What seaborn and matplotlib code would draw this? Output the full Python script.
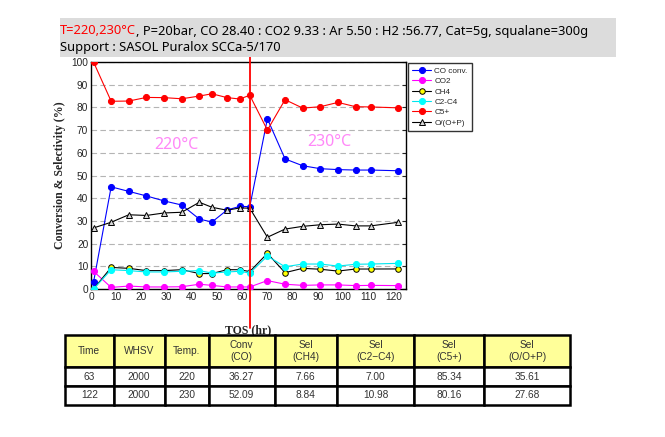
import matplotlib
matplotlib.use("Agg")
import matplotlib.pyplot as plt
from matplotlib.patches import Rectangle
from matplotlib.text import Annotation
import seaborn as sns

# ---------------- data ----------------
tos = [1, 8, 15, 22, 29, 36, 43, 48, 54, 59, 63, 70, 77, 84, 91, 98, 105, 111, 122]
co_conv = [3.0, 45.0, 43.0, 41.0, 38.8, 37.0, 30.8, 29.5, 34.8, 36.4, 36.27, 75.0, 57.3, 54.3, 53.0, 52.6, 52.4, 52.4, 52.09]
co2 = [7.8, 0.7, 1.3, 0.9, 0.9, 1.0, 2.1, 1.6, 0.9, 0.9, 0.9, 3.7, 2.1, 1.6, 1.8, 1.8, 1.5, 1.6, 1.5]
ch4 = [0.0, 9.5, 9.1, 8.1, 8.1, 8.5, 6.8, 6.8, 8.5, 8.5, 7.66, 15.7, 7.2, 9.1, 8.7, 7.9, 8.8, 8.8, 8.84]
c2c4 = [0.0, 8.5, 8.1, 7.5, 7.5, 7.8, 8.1, 7.0, 7.5, 7.8, 7.00, 14.5, 9.8, 11.0, 11.0, 10.1, 10.9, 11.0, 11.3]
c5p = [100.0, 82.7, 82.8, 84.4, 84.3, 83.8, 85.0, 86.0, 84.3, 83.7, 85.34, 70.0, 83.4, 79.7, 80.3, 82.2, 80.3, 80.2, 79.8]
olef = [26.9, 29.4, 32.7, 32.4, 33.5, 33.8, 38.2, 36.0, 34.7, 35.7, 35.61, 22.8, 26.4, 27.6, 28.3, 28.6, 27.8, 27.8, 29.4]

series_names = ["CO conv.", "CO2", "CH4", "C2-C4", "C5+", "O/(O+P)"]
series_values = [co_conv, co2, ch4, c2c4, c5p, olef]

temp_change_time = 63
zone_labels = ["220\u00b0C", "230\u00b0C"]
zone_label_pos = [(34, 63.4), (94.4, 64.7)]

title_red = "T=220,230\u00b0C"
title_rest = ", P=20bar, CO 28.40 : CO2 9.33 : Ar 5.50 : H2 :56.77, Cat=5g, squalane=300g"
title_line2 = "Support : SASOL Puralox SCCa-5/170"

table_header = ["Time", "WHSV", "Temp.", "Conv\n(CO)", "Sel\n(CH4)", "Sel\n(C2\u2212C4)", "Sel\n(C5+)", "Sel\n(O/O+P)"]
table_rows = [
    ["63", "2000", "220", "36.27", "7.66", "7.00", "85.34", "35.61"],
    ["122", "2000", "230", "52.09", "8.84", "10.98", "80.16", "27.68"],
]

# ---------------- styles ----------------
styles = {
    "CO conv.": dict(color="#0000ff", marker="o", mfc="#0000ff", mec="#0000ff", ms=4.4),
    "CO2": dict(color="#ff00ff", marker="o", mfc="#ff00ff", mec="#ff00ff", ms=4.4),
    "CH4": dict(color="#000000", marker="o", mfc="#ffff00", mec="#000000", ms=4.0),
    "C2-C4": dict(color="#00e5ee", marker="o", mfc="#00ffff", mec="#00ffff", ms=4.4),
    "C5+": dict(color="#ff0000", marker="o", mfc="#ff0000", mec="#ff0000", ms=4.4),
    "O/(O+P)": dict(color="#000000", marker="^", mfc="#d8d8d8", mec="#000000", ms=3.8),
}

sns.set_style("white")
plt.rcParams["font.family"] = ["Liberation Sans", "DejaVu Sans"]

W, H = 665, 437
fig = plt.figure(figsize=(W / 100, H / 100), dpi=100)

def fx(px):
    return px / W

def fy(py):
    return 1 - py / H

title_font = ["Noto Sans", "DejaVu Sans"]
title_size = 9.3

# title box
fig.patches.append(Rectangle((fx(60), fy(57)), fx(616) - fx(60), fy(18) - fy(57),
                             transform=fig.transFigure, facecolor="#dcdcdc", edgecolor="none", zorder=0))
t1 = fig.text(fx(60), fy(31), title_red, color="#ff0000", fontsize=title_size, va="center", ha="left",
              family=title_font)
fig.add_artist(Annotation(title_rest, xy=(1, 0), xycoords=t1, va="bottom", ha="left",
                          fontsize=title_size, color="#000000", family=title_font))
fig.text(fx(60), fy(48), title_line2, color="#000000", fontsize=title_size, va="center", ha="left",
         family=title_font)

# main axes
ax = fig.add_axes([fx(91), fy(289), fx(406) - fx(91), fy(62) - fy(289)])
for name, vals in zip(series_names, series_values):
    st = styles[name]
    sns.lineplot(x=tos, y=vals, ax=ax, color=st["color"], marker=st["marker"],
                 markerfacecolor=st["mfc"], markeredgecolor=st["mec"], markersize=st["ms"],
                 markeredgewidth=0.7, linewidth=0.8, label=name, zorder=3)

ax.set_xlim(0, 125)
ax.set_ylim(0, 100)
ax.set_xticks(range(0, 121, 10))
ax.set_yticks(range(0, 101, 10))
ax.yaxis.grid(True, linestyle=(0, (5, 3)), color="#b4b4b4", linewidth=0.8)
ax.xaxis.grid(False)
for s in ax.spines.values():
    s.set_color("black")
    s.set_linewidth(1.0)
ax.tick_params(direction="in", length=3, width=0.8, right=True, labelsize=7.3, pad=2)
ax.set_xlabel("TOS (hr)", family="Liberation Serif", fontweight="bold", fontsize=8.5, labelpad=16)
ax.set_ylabel("Conversion & Selectivity (%)", family="Liberation Serif", fontweight="bold", fontsize=8.5, labelpad=4)

for lbl, (x, y) in zip(zone_labels, zone_label_pos):
    ax.text(x, y, lbl, color="#ff88f8", fontsize=11.5, ha="center", va="center",
            family=title_font, zorder=2)

ax.axvline(temp_change_time, ymin=-0.17, ymax=1.045, color="#ff0000", linewidth=1.3,
           clip_on=False, zorder=5)

leg = ax.legend(loc="upper left", bbox_to_anchor=(fx(408), fy(63)), bbox_transform=fig.transFigure,
                borderaxespad=0, fontsize=5.9, frameon=True, fancybox=False, handlelength=2.3,
                handletextpad=0.4, labelspacing=0.32, borderpad=0.5)
leg.get_frame().set_edgecolor("black")
leg.get_frame().set_linewidth(1.0)

# table
col_edges = [65, 113.5, 164.5, 208.5, 274.5, 337, 414, 484, 570]
tab_top, tab_bot = 335, 405
tax = fig.add_axes([fx(col_edges[0]), fy(tab_bot), fx(col_edges[-1]) - fx(col_edges[0]), fy(tab_top) - fy(tab_bot)])
tax.axis("off")
total_w = col_edges[-1] - col_edges[0]
widths = [(col_edges[i + 1] - col_edges[i]) / total_w for i in range(len(col_edges) - 1)]
tbl = tax.table(cellText=table_rows, colLabels=table_header, colWidths=widths,
                cellLoc="center", bbox=[0, 0, 1, 1])
tbl.auto_set_font_size(False)
row_h = [32 / 70, 19 / 70, 19 / 70]
for (r, c), cell in tbl.get_celld().items():
    cell.set_height(row_h[r])
    cell.set_linewidth(1.8)
    cell.set_edgecolor("black")
    cell.get_text().set_fontsize(7.3)
    cell.get_text().set_color("#333333")
    if r == 0:
        cell.set_facecolor("#ffff99")
    else:
        cell.set_facecolor("white")

fig.savefig("out.png", dpi=100)
